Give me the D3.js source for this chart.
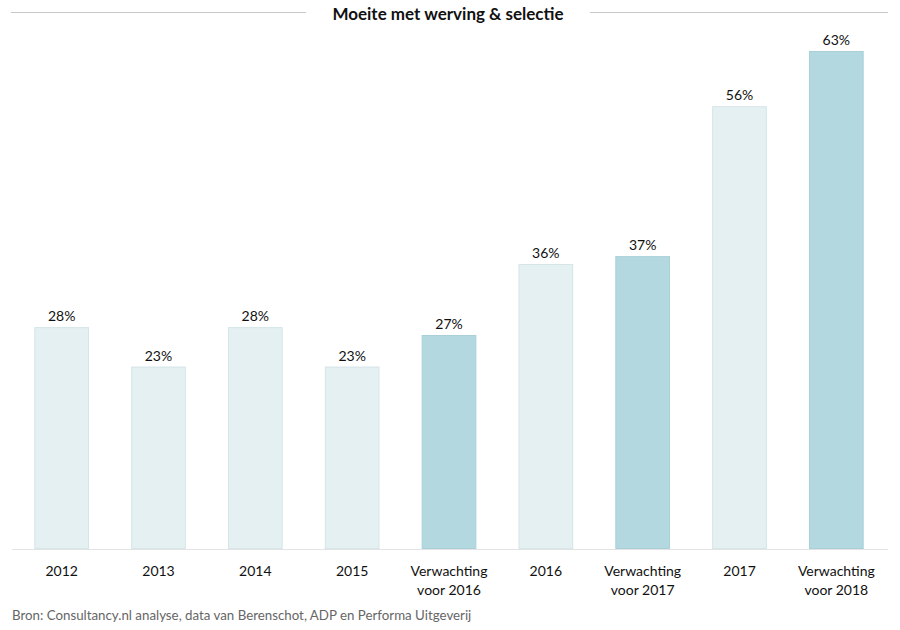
<!DOCTYPE html>
<html><head><meta charset="utf-8">
<script src="https://cdn.jsdelivr.net/npm/d3@7"></script>
<style>body{margin:0;background:#fff}svg{display:block}text{font-family:Lato,"Open Sans",sans-serif}</style>
</head><body>
<svg id="c" width="900" height="630"></svg>
<script>
const categories = ["2012","2013","2014","2015","Verwachting voor 2016","2016","Verwachting voor 2017","2017","Verwachting voor 2018"];
const values = [28,23,28,23,27,36,37,56,63];
const isForecast = [false,false,false,false,true,false,true,false,true];
const title = "Moeite met werving & selectie";
const source = "Bron: Consultancy.nl analyse, data van Berenschot, ADP en Performa Uitgeverij";

const svg = d3.select("#c");
const x = d3.scaleBand().domain(categories).range([13,885]).paddingInner(0.435).paddingOuter(0.22);
const y = d3.scaleLinear().domain([0,63]).range([548,51]);

// title
svg.append("line").attr("x1",11).attr("x2",306).attr("y1",12.5).attr("y2",12.5).attr("stroke","#c8c8c8").attr("stroke-width",1.2);
svg.append("line").attr("x1",590).attr("x2",888).attr("y1",12.5).attr("y2",12.5).attr("stroke","#c8c8c8").attr("stroke-width",1.2);
svg.append("text").attr("x",448).attr("y",19.5).attr("text-anchor","middle").attr("font-weight","bold").attr("font-size",17).attr("fill","#111").text(title);

// bars
svg.selectAll("rect.bar").data(categories).join("rect").attr("class","bar")
  .attr("x",d=>x(d)+0.5).attr("width",x.bandwidth()-1)
  .attr("y",(d,i)=>y(values[i])+0.5).attr("height",(d,i)=>y(0)-y(values[i]))
  .attr("fill",(d,i)=>isForecast[i]?"#b4d8df":"#e5f0f2")
  .attr("stroke",(d,i)=>isForecast[i]?"#a9d0d8":"#d5e5e8").attr("stroke-width",1);

// value labels
svg.selectAll("text.val").data(categories).join("text").attr("class","val")
  .attr("x",d=>x(d)+x.bandwidth()/2).attr("y",(d,i)=>y(values[i])-6)
  .attr("text-anchor","middle").attr("font-size",14).attr("fill","#111")
  .text((d,i)=>values[i]+"%");

// axis
const ax = svg.append("g").attr("transform","translate(0,549)").call(d3.axisBottom(x).tickSize(0).tickPadding(0));
ax.select(".domain").attr("stroke","#e3e3e3").attr("d","M12,0.5H888");
ax.selectAll(".tick text").remove();
ax.selectAll(".tick").each(function(d){
  const t = d3.select(this).append("text").attr("text-anchor","middle").attr("font-size",14).attr("fill","#111").attr("y",27);
  const parts = d.startsWith("Verwachting") ? ["Verwachting", d.replace("Verwachting ","")] : [d];
  parts.forEach((p,k)=>t.append("tspan").attr("x",0).attr("dy",k?19:0).text(p));
});

svg.append("text").attr("x",12).attr("y",620).attr("font-size",13.3).attr("fill","#666").text(source);
</script>
</body></html>
